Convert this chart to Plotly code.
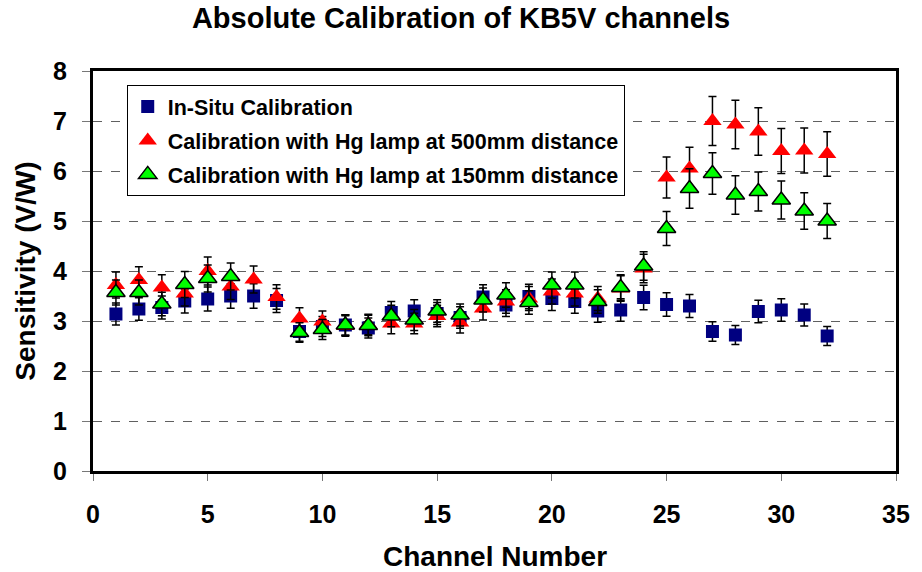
import plotly.graph_objects as go

channels = list(range(1, 33))
in_situ = [3.14, 3.24, 3.27, 3.40, 3.44, 3.50, 3.50, 3.41, 2.79, 2.89, 2.92, 2.86,
           3.17, 3.20, 3.15, 3.07, 3.48, 3.32, 3.49, 3.45, 3.39, 3.20, 3.22, 3.47,
           3.33, 3.30, 2.79, 2.72, 3.19, 3.22, 3.12, 2.70]
hg_500 = [3.72, 3.82, 3.67, 3.55, 4.00, 3.69, 3.83, 3.48, 3.05, 2.99, 2.90, 2.93,
          2.95, 2.95, 3.10, 2.97, 3.25, 3.39, 3.45, 3.59, 3.55, 3.45, 3.65, 4.05,
          5.87, 6.05, 7.00, 6.93, 6.79, 6.40, 6.41, 6.34]
hg_150 = [3.57, 3.57, 3.34, 3.73, 3.85, 3.89, None, None, 2.77, 2.83, 2.92, 2.91,
          3.10, 3.02, 3.20, 3.12, 3.42, 3.52, 3.37, 3.72, 3.72, 3.39, 3.67, 4.10,
          4.85, 5.65, 5.95, 5.52, 5.59, 5.42, 5.20, 5.00]
error_pct = 7

names = ["In-Situ Calibration",
         "Calibration with Hg lamp at 500mm distance",
         "Calibration with Hg lamp at 150mm distance"]

FONT = "Liberation Sans, Arial, sans-serif"
err = dict(type="percent", value=error_pct, color="black", thickness=1.5, width=4)

fig = go.Figure()
fig.add_trace(go.Scatter(x=channels, y=in_situ, mode="markers", name=names[0],
                         legendgroup="a",
                         marker=dict(symbol="square", size=13, color="#000080",
                                     line=dict(width=0)),
                         error_y=err))
fig.add_trace(go.Scatter(x=channels, y=hg_500, mode="markers", name=names[1],
                         legendgroup="b",
                         marker=dict(symbol="triangle-up", size=16, color="#FF0000",
                                     line=dict(width=0)),
                         error_y=err))
fig.add_trace(go.Scatter(x=channels, y=hg_150, mode="markers", name=names[2],
                         legendgroup="c",
                         marker=dict(symbol="triangle-up", size=16, color="#00FF00",
                                     line=dict(width=1.5, color="black")),
                         error_y=err))

fig.update_layout(
    width=922, height=572,
    margin=dict(l=93, r=17, t=71, b=101),
    paper_bgcolor="white", plot_bgcolor="white",
    title=dict(text="Absolute Calibration of KB5V channels",
               x=0.5, xanchor="center", xref="container",
               y=1 - 18 / 572, yanchor="middle", yref="container",
               font=dict(family=FONT, size=29, color="black", weight="bold")),
    showlegend=True,
    legend=dict(x=0.042, y=0.965, xanchor="left", yanchor="top",
                bgcolor="white", bordercolor="black", borderwidth=1,
                font=dict(family=FONT, size=21.5, color="black", weight="bold"),
                traceorder="grouped", tracegroupgap=3, itemwidth=30),
    xaxis=dict(range=[0, 35], dtick=5, tick0=0,
               showline=True, linecolor="black", linewidth=3, mirror=True,
               ticks="outside", ticklen=7, tickwidth=1, tickcolor="#777777",
               ticklabelstandoff=12,
               showgrid=False, zeroline=False,
               tickfont=dict(family=FONT, size=25, color="black", weight="bold")),
    yaxis=dict(range=[0, 8], dtick=1, tick0=0,
               showline=True, linecolor="black", linewidth=3, mirror=True,
               ticks="outside", ticklen=8, tickwidth=1, tickcolor="#777777",
               ticklabelstandoff=10,
               showgrid=True, gridcolor="#606060", griddash="dash", gridwidth=1,
               zeroline=False,
               tickfont=dict(family=FONT, size=25, color="black", weight="bold"),
               title=dict(text="Sensitivity (V/W)", standoff=10,
                          font=dict(family=FONT, size=28, color="black", weight="bold"))),
    annotations=[dict(text="Channel Number", xref="paper", yref="paper",
                      x=0.5, y=-0.2125, xanchor="center", yanchor="middle",
                      showarrow=False,
                      font=dict(family=FONT, size=28, color="black", weight="bold"))],
)

fig.write_html("out.html", config={"displayModeBar": False},
               post_script="document.body.style.margin='0px';")
